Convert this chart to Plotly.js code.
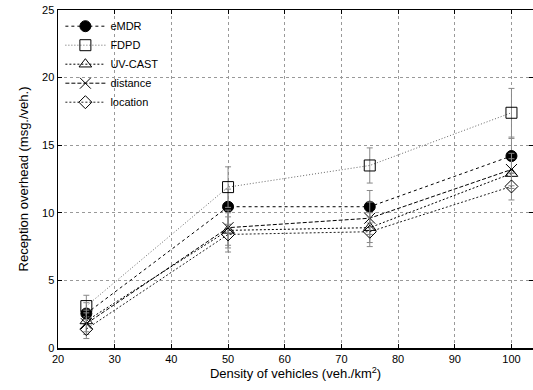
<!DOCTYPE html>
<html><head><meta charset="utf-8">
<script src="https://cdn.plot.ly/plotly-3.0.1.min.js"></script>
<style>html,body{margin:0;padding:0;background:#fff}#chart{width:533px;height:390px}</style>
</head><body><div id="chart"></div>
<script>
const density = [25, 50, 75, 100];
const seriesNames = ["eMDR", "FDPD", "UV-CAST", "distance", "location"];
const eMDR     = [2.55, 10.45, 10.45, 14.2];
const FDPD     = [3.1, 11.9, 13.5, 17.4];
const uvcast   = [2.0, 8.7, 8.9, 12.9];
const distance = [1.8, 8.9, 9.6, 13.2];
const location_ = [1.4, 8.4, 8.6, 11.95];
const errEMDR  = [0.8, 1.3, 1.2, 1.3];
const errFDPD  = [0.8, 1.5, 1.3, 1.8];
const errUV    = [0.8, 1.3, 1.1, 1.1];
const errDist  = [0.8, 1.3, 1.2, 1.2];
const errLoc   = [0.7, 1.3, 1.1, 1.0];
const yTicks = [0, 5, 10, 15, 20, 25];
const xTicks = [20, 30, 40, 50, 60, 70, 80, 90, 100];

const values = [eMDR, FDPD, uvcast, distance, location_];
const errs = [errEMDR, errFDPD, errUV, errDist, errLoc];
const styles = [
  {symbol: "circle", size: 11, dash: "3px,3px", color: "#000"},
  {symbol: "square-open", size: 11, dash: "1px,2px", color: "#666"},
  {symbol: "triangle-up-open", size: 11, dash: "2px,2px", color: "#000"},
  {symbol: "x-thin-open", size: 11, dash: "4px,2px", color: "#000"},
  {symbol: "diamond-open", size: 10, dash: "2px,2px", color: "#222"}
];
const traces = values.map((v, i) => ({
  x: density, y: v, name: seriesNames[i], type: "scatter", mode: "lines+markers",
  line: {color: styles[i].color, width: 1, dash: styles[i].dash},
  marker: {symbol: styles[i].symbol, size: styles[i].size, color: "#000",
           line: {color: "#000", width: 1}},
  error_y: {type: "data", array: errs[i], visible: true, color: "#888", thickness: 1, width: 3}
}));

const axisCommon = {
  showline: true, linecolor: "#000", linewidth: 1.5, mirror: "ticks",
  ticks: "inside", ticklen: 4, tickcolor: "#000",
  showgrid: true, gridcolor: "#999", griddash: "dot", gridwidth: 1,
  zeroline: false, tickfont: {family: "Liberation Sans, Arial, sans-serif", size: 11, color: "#000"}
};
const layout = {
  width: 533, height: 390,
  margin: {l: 58, r: 0, t: 10, b: 42},
  paper_bgcolor: "#fff", plot_bgcolor: "#fff",
  showlegend: true,
  legend: {x: 0.005, y: 0.995, xanchor: "left", yanchor: "top", bgcolor: "rgba(0,0,0,0)",
           font: {family: "Liberation Sans, Arial, sans-serif", size: 11, color: "#000"},
           tracegroupgap: 0, itemwidth: 40},
  xaxis: Object.assign({}, axisCommon, {
    range: [20, 103.8], tickvals: xTicks, ticktext: xTicks.map(String),
    title: {text: "Density of vehicles (veh./km<sup>2</sup>)", standoff: 4,
            font: {family: "Liberation Sans, Arial, sans-serif", size: 13, color: "#000"}}
  }),
  yaxis: Object.assign({}, axisCommon, {
    range: [0, 25], tickvals: yTicks, ticktext: yTicks.map(String),
    title: {text: "Reception overhead (msg./veh.)", standoff: 10,
            font: {family: "Liberation Sans, Arial, sans-serif", size: 13, color: "#000"}}
  })
};
Plotly.newPlot("chart", traces, layout, {displayModeBar: false, staticPlot: true});
</script></body></html>
